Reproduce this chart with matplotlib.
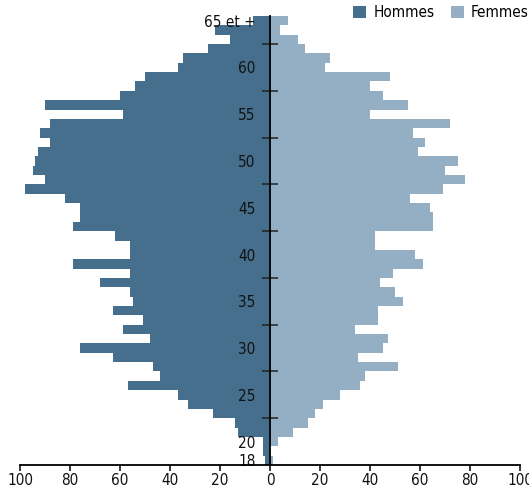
import matplotlib
matplotlib.use("Agg")
import matplotlib.pyplot as plt
from matplotlib.patches import Patch
import numpy as np

plt.rcParams['font.family'] = ['DejaVu Sans']
plt.rcParams['font.stretch'] = 'condensed'

# Age groups from youngest to oldest
ages = [str(a) for a in range(18, 65)] + ["65 et +"]

# values listed from oldest (65 et +) down to 18, then reversed to age order
hommes_top_down = [7, 22, 16, 25, 35, 37, 50, 54, 60, 90, 59, 88, 92, 88, 93, 94,
                   95, 90, 98, 82, 76, 76, 79, 62, 56, 56, 79, 56, 68, 56, 55, 63,
                   51, 59, 48, 76, 63, 47, 44, 57, 37, 33, 23, 14, 13, 3, 3, 2]
femmes_top_down = [7, 4, 11, 14, 24, 22, 48, 40, 45, 55, 40, 72, 57, 62, 59, 75,
                   70, 78, 69, 56, 64, 65, 65, 42, 42, 58, 61, 49, 44, 50, 53, 43,
                   43, 34, 47, 45, 35, 51, 38, 36, 28, 21, 18, 15, 9, 3, 0, 1]
hommes = hommes_top_down[::-1]
femmes = femmes_top_down[::-1]

label_ages = ["18", "20", "25", "30", "35", "40", "45", "50", "55", "60", "65 et +"]
x_ticks = [-100, -80, -60, -40, -20, 0, 20, 40, 60, 80, 100]
legend_labels = ["Hommes", "Femmes"]

c_h = "#456f8c"
c_f = "#94aec4"

W, H = 529, 491
fig = plt.figure(figsize=(W / 100, H / 100), dpi=100)
ax = fig.add_axes([20 / W, (H - 465) / H, 500 / W, 449 / H])

pos = np.arange(len(ages))
ax.barh(pos, -np.array(hommes), height=1.0, color=c_h, linewidth=0)
ax.barh(pos, femmes, height=1.0, color=c_f, linewidth=0)

ax.set_xlim(-100, 100)
ax.set_ylim(-0.5, len(ages) - 0.5)

for s in ["top", "right"]:
    ax.spines[s].set_visible(False)
ax.spines["left"].set_position(("data", 0))
ax.spines["left"].set_linewidth(1.3)
ax.spines["left"].set_zorder(3)
ax.spines["bottom"].set_linewidth(1.3)

# major ticks between groups on central axis
boundaries = [p + 0.5 for p in pos if (int(ages[p].split()[0]) - 62) % 5 == 0 and ages[p] != "65 et +" and p + 0.5 < len(ages) - 1]
ax.set_yticks(boundaries)
ax.set_yticklabels([""] * len(boundaries))
ax.tick_params(axis="y", which="major", direction="inout", length=11, width=1.1, color="#222222")

lab_pos = [ages.index(a) for a in label_ages]
ax.set_yticks(lab_pos, minor=True)
ax.set_yticklabels(label_ages, minor=True, fontsize=11)
ax.tick_params(axis="y", which="minor", length=0, pad=10.5, labelcolor="#111111")
for t in ax.get_yticklabels(minor=True):
    if t.get_text() == "65 et +":
        t.set_y(t.get_position()[1])

ax.set_xticks(x_ticks)
ax.set_xticklabels([str(abs(v)) for v in x_ticks], fontsize=11)
ax.tick_params(axis="x", direction="out", length=4, width=1.1, pad=2, labelcolor="#111111")

handles = [Patch(facecolor=c_h, edgecolor="none"), Patch(facecolor=c_f, edgecolor="none")]
fig.legend(handles, legend_labels, loc="upper right", bbox_to_anchor=(529 / W, (H - 5) / H),
           ncol=2, frameon=False, fontsize=11, handlelength=0.85, handleheight=0.85,
           handletextpad=0.45, columnspacing=1.1, borderpad=0, borderaxespad=0)

fig.savefig("out.png", dpi=100)
